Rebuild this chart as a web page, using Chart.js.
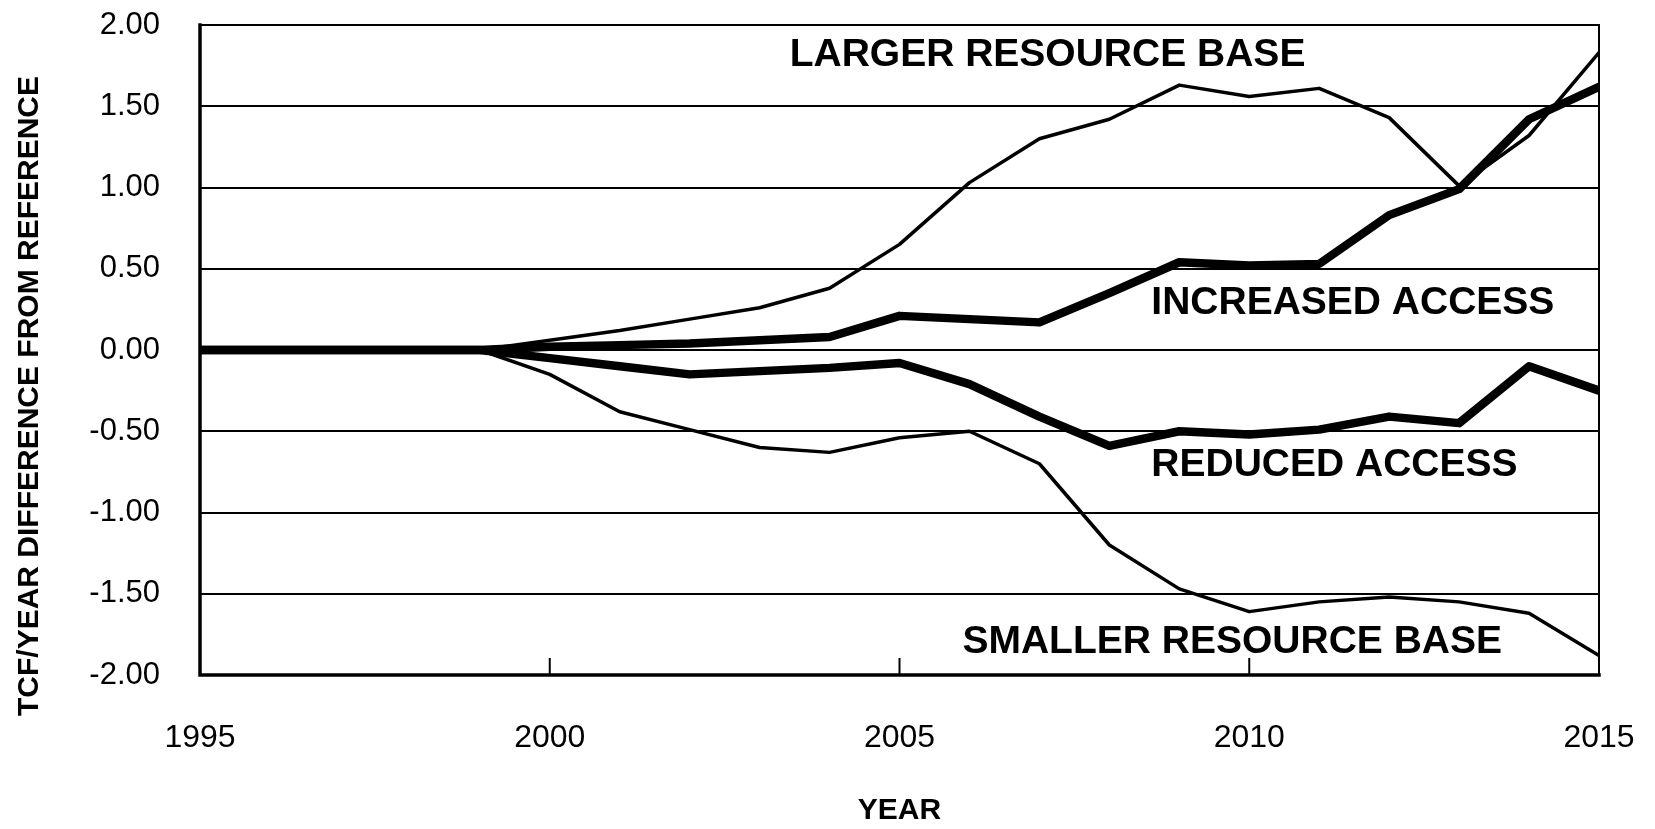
<!DOCTYPE html>
<html>
<head>
<meta charset="utf-8">
<script src="https://cdn.jsdelivr.net/npm/chart.js@4.4.1/dist/chart.umd.min.js"></script>
<style>
  html, body { margin: 0; padding: 0; background: #fff; }
  canvas { display: block; }
</style>
</head>
<body>
<canvas id="chart" width="1655" height="829"></canvas>
<script>
// years on the x axis
const years = [1995, 1996, 1997, 1998, 1999, 2000, 2001, 2002, 2003, 2004, 2005,
               2006, 2007, 2008, 2009, 2010, 2011, 2012, 2013, 2014, 2015];

// TCF/year difference from reference
const largerBase = [0, 0, 0, 0, 0, 0.06, 0.12, 0.19, 0.26, 0.38, 0.65,
                    1.03, 1.30, 1.42, 1.63, 1.56, 1.61, 1.43, 1.01, 1.32, 1.83];
const increasedAccess = [0, 0, 0, 0, 0, 0.02, 0.03, 0.04, 0.06, 0.08, 0.21,
                         0.19, 0.17, 0.35, 0.54, 0.52, 0.53, 0.83, 0.99, 1.42, 1.62];
const reducedAccess = [0, 0, 0, 0, 0, -0.05, -0.10, -0.15, -0.13, -0.11, -0.08,
                       -0.21, -0.41, -0.59, -0.50, -0.52, -0.49, -0.41, -0.45, -0.10, -0.25];
const smallerBase = [0, 0, 0, 0, 0, -0.15, -0.38, -0.49, -0.60, -0.63, -0.54,
                     -0.50, -0.70, -1.20, -1.47, -1.61, -1.55, -1.52, -1.55, -1.62, -1.88];

const xTicks = [1995, 2000, 2005, 2010, 2015];
const innerTicks = [2000, 2005, 2010];

// series labels written on the chart (placed in data units)
const notes = [
  { text: 'LARGER RESOURCE BASE', year: 2003.43, value: 1.815 },
  { text: 'INCREASED ACCESS', year: 2008.6, value: 0.29 },
  { text: 'REDUCED ACCESS', year: 2008.6, value: -0.71 },
  { text: 'SMALLER RESOURCE BASE', year: 2005.9, value: -1.80 }
];
const yTitle = 'TCF/YEAR DIFFERENCE FROM REFERENCE';

function toPoints(values) {
  return years.map((yr, i) => ({ x: yr, y: values[i] }));
}

function lineSet(label, values, width) {
  return {
    label: label,
    data: toPoints(values),
    borderColor: '#000',
    borderWidth: width,
    pointRadius: 0,
    tension: 0,
    borderJoinStyle: 'round',
    borderCapStyle: 'round'
  };
}

// frame round the plot, plus the little upward ticks on the bottom axis
const framePlugin = {
  id: 'frame',
  afterDraw(chart) {
    const { ctx, chartArea: a } = chart;
    const xs = chart.scales.x;
    ctx.save();
    ctx.strokeStyle = '#000';
    ctx.lineCap = 'square';
    ctx.lineWidth = 3.5;
    ctx.beginPath();
    ctx.moveTo(a.left, a.top);
    ctx.lineTo(a.left, a.bottom);
    ctx.lineTo(a.right, a.bottom);
    ctx.stroke();
    ctx.lineWidth = 2;
    ctx.beginPath();
    ctx.moveTo(a.right, a.bottom);
    ctx.lineTo(a.right, a.top);
    ctx.stroke();
    innerTicks.forEach(t => {
      const px = xs.getPixelForValue(t);
      ctx.beginPath();
      ctx.moveTo(px, a.bottom);
      ctx.lineTo(px, a.bottom - 16);
      ctx.stroke();
    });

    // y axis title, sits a little below the middle of the plot like the original
    ctx.font = 'bold 30px "Liberation Sans", Arial, sans-serif';
    ctx.fillStyle = '#000';
    ctx.textAlign = 'center';
    ctx.textBaseline = 'middle';
    ctx.translate(30, 396);
    ctx.rotate(-Math.PI / 2);
    ctx.fillText(yTitle, 0, 0);
    ctx.restore();
  }
};

const notesPlugin = {
  id: 'notes',
  afterDatasetsDraw(chart) {
    const { ctx } = chart;
    const xs = chart.scales.x, ys = chart.scales.y;
    ctx.save();
    ctx.fillStyle = '#000';
    ctx.font = 'bold 39px "Liberation Sans", Arial, sans-serif';
    ctx.textAlign = 'left';
    ctx.textBaseline = 'middle';
    notes.forEach(n => {
      ctx.fillText(n.text, xs.getPixelForValue(n.year), ys.getPixelForValue(n.value));
    });
    ctx.restore();
  }
};

const ctx = document.getElementById('chart').getContext('2d');
new Chart(ctx, {
  type: 'line',
  data: {
    datasets: [
      lineSet('Larger resource base', largerBase, 3.5),
      lineSet('Increased access', increasedAccess, 8.5),
      lineSet('Reduced access', reducedAccess, 8.5),
      lineSet('Smaller resource base', smallerBase, 3.5)
    ]
  },
  options: {
    responsive: false,
    animation: false,
    layout: { padding: 0 },
    plugins: {
      legend: { display: false },
      tooltip: { enabled: false }
    },
    scales: {
      x: {
        type: 'linear',
        min: 1995,
        max: 2015,
        afterBuildTicks: scale => { scale.ticks = xTicks.map(v => ({ value: v })); },
        afterFit: scale => {
          scale.height = 154;
          scale.paddingLeft = 0;
          scale.paddingRight = 56;
        },
        grid: { display: false, drawTicks: false },
        border: { display: false },
        ticks: {
          color: '#000',
          padding: 44,
          maxRotation: 0,
          font: { family: '"Liberation Sans", Arial, sans-serif', size: 32 },
          callback: v => String(v)
        },
        title: {
          display: true,
          text: 'YEAR',
          color: '#000',
          padding: { top: 0, bottom: 0 },
          font: { family: '"Liberation Sans", Arial, sans-serif', size: 30, weight: 'bold' }
        }
      },
      y: {
        min: -2,
        max: 2,
        afterFit: scale => {
          scale.width = 200;
          scale.paddingTop = 25;
          scale.paddingBottom = 0;
        },
        grid: { color: '#000', lineWidth: 2, drawTicks: false },
        border: { display: false },
        ticks: {
          stepSize: 0.5,
          color: '#000',
          padding: 40,
          font: { family: '"Liberation Sans", Arial, sans-serif', size: 31 },
          callback: v => v.toFixed(2)
        },
        title: { display: false }
      }
    }
  },
  plugins: [framePlugin, notesPlugin]
});
</script>
</body>
</html>
